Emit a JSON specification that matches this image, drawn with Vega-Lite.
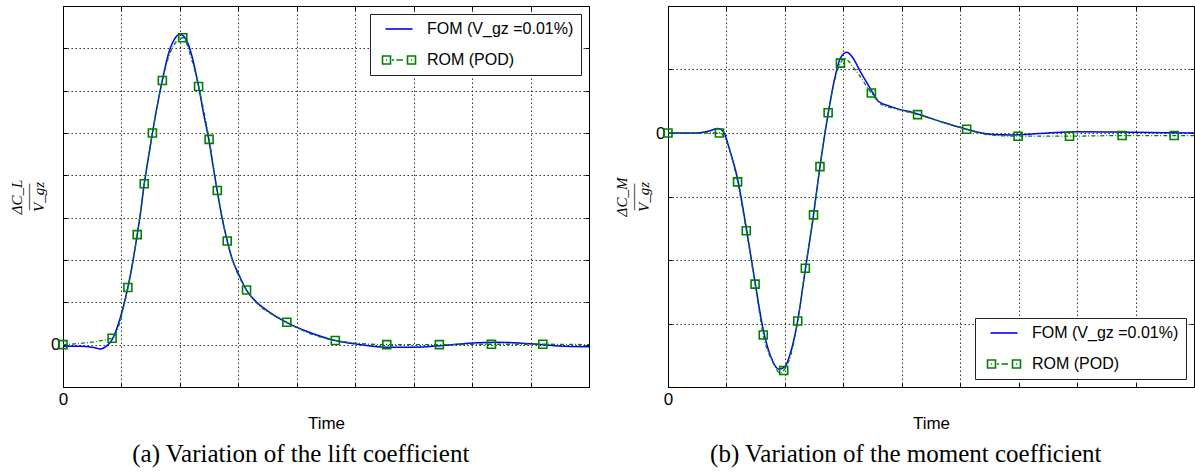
{
  "$schema": "https://vega.github.io/schema/vega-lite/v6.json",
  "padding": {"left": 9, "top": 5, "right": 0, "bottom": 0},
  "background": "white",
  "bounds": "flush",
  "spacing": 79,
  "config": {
    "view": {"stroke": "black", "strokeWidth": 1},
    "font": "Liberation Sans"
  },
  "datasets": {
    "lFOM": [
      {"t": 0, "v": -0.04}, {"t": 0.3, "v": -0.04}, {"t": 0.5, "v": -0.06}, {"t": 0.65, "v": -0.1}, {"t": 0.75, "v": -0.03},
      {"t": 0.84, "v": 0.12}, {"t": 0.95, "v": 0.5}, {"t": 1.05, "v": 1.0}, {"t": 1.11, "v": 1.35}, {"t": 1.2, "v": 2.0},
      {"t": 1.27, "v": 2.6}, {"t": 1.33, "v": 3.15}, {"t": 1.39, "v": 3.8}, {"t": 1.46, "v": 4.4}, {"t": 1.53, "v": 5.0},
      {"t": 1.6, "v": 5.55}, {"t": 1.7, "v": 6.25}, {"t": 1.8, "v": 6.85}, {"t": 1.9, "v": 7.2}, {"t": 2.0, "v": 7.33},
      {"t": 2.1, "v": 7.22}, {"t": 2.2, "v": 6.85}, {"t": 2.32, "v": 6.1}, {"t": 2.4, "v": 5.5}, {"t": 2.5, "v": 4.8},
      {"t": 2.57, "v": 4.2}, {"t": 2.64, "v": 3.62}, {"t": 2.72, "v": 3.0}, {"t": 2.81, "v": 2.45}, {"t": 2.9, "v": 2.0},
      {"t": 3.0, "v": 1.68}, {"t": 3.14, "v": 1.29}, {"t": 3.3, "v": 1.02}, {"t": 3.5, "v": 0.8}, {"t": 3.83, "v": 0.52},
      {"t": 4.2, "v": 0.3}, {"t": 4.66, "v": 0.1}, {"t": 5.0, "v": 0.02}, {"t": 5.5, "v": -0.06}, {"t": 6.0, "v": -0.06},
      {"t": 6.5, "v": -0.02}, {"t": 7.0, "v": 0.04}, {"t": 7.4, "v": 0.06}, {"t": 7.8, "v": 0.04}, {"t": 8.2, "v": 0.0},
      {"t": 8.6, "v": -0.04}, {"t": 9.0, "v": -0.05}
    ],
    "lROMline": [
      {"t": 0, "v": 0}, {"t": 0.84, "v": 0.15}, {"t": 1.11, "v": 1.35}, {"t": 1.27, "v": 2.6}, {"t": 1.39, "v": 3.8},
      {"t": 1.53, "v": 5.0}, {"t": 1.7, "v": 6.24}, {"t": 1.85, "v": 6.95}, {"t": 2.05, "v": 7.25}, {"t": 2.2, "v": 6.75},
      {"t": 2.32, "v": 6.1}, {"t": 2.5, "v": 4.85}, {"t": 2.64, "v": 3.64}, {"t": 2.81, "v": 2.45}, {"t": 3.14, "v": 1.29},
      {"t": 3.83, "v": 0.53}, {"t": 4.66, "v": 0.1}, {"t": 5.54, "v": 0.0}, {"t": 6.44, "v": 0.0}, {"t": 7.33, "v": 0.01},
      {"t": 8.21, "v": 0.01}, {"t": 9.0, "v": 0.0}
    ],
    "lROMpts": [
      {"t": 0, "v": 0}, {"t": 0.84, "v": 0.15}, {"t": 1.11, "v": 1.35}, {"t": 1.27, "v": 2.6}, {"t": 1.39, "v": 3.8},
      {"t": 1.53, "v": 5.0}, {"t": 1.7, "v": 6.24}, {"t": 2.05, "v": 7.25}, {"t": 2.32, "v": 6.1}, {"t": 2.5, "v": 4.85},
      {"t": 2.64, "v": 3.64}, {"t": 2.81, "v": 2.45}, {"t": 3.14, "v": 1.29}, {"t": 3.83, "v": 0.53}, {"t": 4.66, "v": 0.1},
      {"t": 5.54, "v": 0.0}, {"t": 6.44, "v": 0.0}, {"t": 7.33, "v": 0.01}, {"t": 8.21, "v": 0.01}
    ],
    "rFOM": [
      {"t": 0, "v": 0}, {"t": 0.5, "v": 0.0}, {"t": 0.7, "v": 0.03}, {"t": 0.85, "v": 0.07}, {"t": 0.95, "v": 0.02},
      {"t": 1.05, "v": -0.25}, {"t": 1.19, "v": -0.72}, {"t": 1.34, "v": -1.5}, {"t": 1.49, "v": -2.35}, {"t": 1.63, "v": -3.1},
      {"t": 1.75, "v": -3.5}, {"t": 1.9, "v": -3.72}, {"t": 2.0, "v": -3.68}, {"t": 2.1, "v": -3.45}, {"t": 2.22, "v": -2.95},
      {"t": 2.35, "v": -2.15}, {"t": 2.49, "v": -1.29}, {"t": 2.6, "v": -0.53}, {"t": 2.74, "v": 0.3}, {"t": 2.85, "v": 0.85},
      {"t": 2.95, "v": 1.18}, {"t": 3.06, "v": 1.27}, {"t": 3.15, "v": 1.2}, {"t": 3.3, "v": 0.95}, {"t": 3.45, "v": 0.72},
      {"t": 3.6, "v": 0.5}, {"t": 3.8, "v": 0.42}, {"t": 4.27, "v": 0.3}, {"t": 4.7, "v": 0.17}, {"t": 5.1, "v": 0.06},
      {"t": 5.5, "v": -0.02}, {"t": 5.9, "v": -0.03}, {"t": 6.5, "v": 0.0}, {"t": 7.0, "v": 0.02}, {"t": 8.0, "v": 0.01},
      {"t": 9.0, "v": 0.0}
    ],
    "rROMline": [
      {"t": 0, "v": 0}, {"t": 0.88, "v": 0}, {"t": 1.19, "v": -0.77}, {"t": 1.34, "v": -1.54}, {"t": 1.49, "v": -2.38},
      {"t": 1.63, "v": -3.18}, {"t": 1.8, "v": -3.62}, {"t": 1.92, "v": -3.78}, {"t": 1.98, "v": -3.74}, {"t": 2.1, "v": -3.5},
      {"t": 2.22, "v": -2.96}, {"t": 2.35, "v": -2.13}, {"t": 2.49, "v": -1.29}, {"t": 2.6, "v": -0.53}, {"t": 2.74, "v": 0.32},
      {"t": 2.95, "v": 1.1}, {"t": 3.02, "v": 1.17}, {"t": 3.2, "v": 1.0}, {"t": 3.48, "v": 0.63}, {"t": 3.65, "v": 0.45},
      {"t": 3.9, "v": 0.38}, {"t": 4.27, "v": 0.29}, {"t": 5.11, "v": 0.06}, {"t": 5.5, "v": -0.03}, {"t": 5.99, "v": -0.05},
      {"t": 6.87, "v": -0.05}, {"t": 7.77, "v": -0.04}, {"t": 8.66, "v": -0.04}, {"t": 9.0, "v": -0.04}
    ],
    "rROMpts": [
      {"t": 0, "v": 0}, {"t": 0.88, "v": 0}, {"t": 1.19, "v": -0.77}, {"t": 1.34, "v": -1.54}, {"t": 1.49, "v": -2.38},
      {"t": 1.63, "v": -3.18}, {"t": 1.98, "v": -3.74}, {"t": 2.22, "v": -2.96}, {"t": 2.35, "v": -2.13}, {"t": 2.49, "v": -1.29},
      {"t": 2.6, "v": -0.53}, {"t": 2.74, "v": 0.32}, {"t": 2.95, "v": 1.1}, {"t": 3.48, "v": 0.63}, {"t": 4.27, "v": 0.29},
      {"t": 5.11, "v": 0.06}, {"t": 5.99, "v": -0.05}, {"t": 6.87, "v": -0.05}, {"t": 7.77, "v": -0.04}, {"t": 8.66, "v": -0.04}
    ],
    "leg": [
      {"s": "FOM (V_gz =0.01%)"}, {"s": "ROM (POD)"}
    ]
  },
  "hconcat": [
    {
      "width": 526,
      "height": 381,
      "title": {"text": "(a)  Variation of the lift coefficient", "orient": "bottom", "anchor": "middle", "frame": "bounds", "font": "Liberation Serif", "fontSize": 25, "fontWeight": "normal", "color": "black", "offset": 11},
      "resolve": {"axis": {"x": "independent", "y": "independent"}},
      "layer": [
        {
          "data": {"name": "lFOM"},
          "mark": {"type": "line", "color": "#0000ff", "strokeWidth": 1.5, "interpolate": "monotone"},
          "encoding": {
            "x": {"field": "t", "type": "quantitative", "scale": {"domain": [0, 9], "nice": false, "zero": false},
              "axis": {"orient": "bottom", "values": [0,1,2,3,4,5,6,7,8,9], "labelExpr": "datum.value == 0 ? '0' : ''", "labelOverlap": false, "labelFlush": false,
                "grid": true, "gridDash": [1.5, 2.5], "gridColor": "black", "gridOpacity": 0.8, "domain": false,
                "ticks": true, "tickSize": -4, "tickColor": "black", "labelPadding": 8, "labelFont": "Liberation Sans",
                "labelFontSize": {"condition": {"test": "datum.value == 0", "value": 17}, "value": 0}, "labelColor": "black",
                "title": "Time", "titleFont": "Liberation Sans", "titleFontSize": 17, "titleFontWeight": "normal", "titleColor": "black", "titlePadding": 8}},
            "y": {"field": "v", "type": "quantitative", "scale": {"domain": [-1, 8], "nice": false, "zero": false},
              "axis": {"orient": "left", "values": [-1,0,1,2,3,4,5,6,7,8], "labelExpr": "datum.value == 0 ? '0' : ''", "labelOverlap": false, "labelFlush": false,
                "grid": true, "gridDash": [1.5, 2.5], "gridColor": "black", "gridOpacity": 0.8, "domain": false,
                "ticks": true, "tickSize": -4, "tickColor": "black", "labelPadding": 7, "labelFont": "Liberation Sans",
                "labelFontSize": {"condition": {"test": "datum.value == 0", "value": 17}, "value": 0}, "labelColor": "black",
                "title": ["ΔC_L", "——", "V_gz"], "titleFont": "Liberation Serif", "titleFontStyle": "italic", "titleFontSize": 15, "titleLineHeight": 11, "titleFontWeight": "normal", "titleColor": "black", "titlePadding": 4}}
          }
        },
        {
          "data": {"name": "lROMline"},
          "mark": {"type": "line", "color": "#008000", "strokeWidth": 1.3, "strokeDash": [4, 2, 1, 2], "interpolate": "monotone"},
          "encoding": {
            "x": {"field": "t", "type": "quantitative", "axis": {"orient": "top", "values": [0,1,2,3,4,5,6,7,8,9], "labels": false, "grid": false, "domain": false, "ticks": true, "tickSize": -4, "tickColor": "black", "title": null}},
            "y": {"field": "v", "type": "quantitative", "axis": {"orient": "right", "values": [-1,0,1,2,3,4,5,6,7,8], "labels": false, "grid": false, "domain": false, "ticks": true, "tickSize": -4, "tickColor": "black", "title": null}}
          }
        },
        {
          "data": {"name": "lROMpts"},
          "mark": {"type": "point", "shape": "square", "size": 64, "filled": false, "color": "#008000", "strokeWidth": 1.6, "opacity": 1},
          "encoding": {
            "x": {"field": "t", "type": "quantitative", "axis": null},
            "y": {"field": "v", "type": "quantitative", "axis": null}
          }
        },
        {
          "data": {"name": "leg"},
          "mark": {"type": "point", "opacity": 0, "filled": false},
          "encoding": {
            "color": {"field": "s", "type": "nominal", "scale": {"domain": ["FOM (V_gz =0.01%)", "ROM (POD)"], "range": ["#0000ff", "#008000"]},
              "legend": {"orient": "top-right", "offset": 8, "title": null, "fillColor": "white", "strokeColor": "#222", "padding": 7, "rowPadding": 15,
                "labelFont": "Liberation Sans", "labelFontSize": 16, "labelColor": "black", "labelLimit": 400, "symbolSize": 100, "symbolOpacity": 1,
                "symbolStrokeWidth": 1.6, "symbolFillColor": "transparent", "symbolOffset": 14, "labelOffset": 20}},
            "shape": {"field": "s", "type": "nominal", "scale": {"domain": ["FOM (V_gz =0.01%)", "ROM (POD)"], "range": ["M-2.7,0H2.7", "M-3.3,-0.8H-1.7V0.8H-3.3Z M1.7,-0.8H3.3V0.8H1.7Z M-2.6,0H-2.4 M-1.4,0H-1.0 M-0.5,0H0.8 M2.4,0H2.6"]},
              "legend": {"orient": "top-right", "offset": 8, "title": null, "fillColor": "white", "strokeColor": "#222", "padding": 7, "rowPadding": 15,
                "labelFont": "Liberation Sans", "labelFontSize": 16, "labelColor": "black", "labelLimit": 400, "symbolSize": 100, "symbolOpacity": 1,
                "symbolStrokeWidth": 1.6, "symbolFillColor": "transparent", "symbolOffset": 14, "labelOffset": 20}}
          }
        }
      ]
    },
    {
      "width": 526,
      "height": 381,
      "title": {"text": "(b)  Variation of the moment coefficient", "orient": "bottom", "anchor": "middle", "frame": "bounds", "font": "Liberation Serif", "fontSize": 25, "fontWeight": "normal", "color": "black", "offset": 11},
      "resolve": {"axis": {"x": "independent", "y": "independent"}},
      "layer": [
        {
          "data": {"name": "rFOM"},
          "mark": {"type": "line", "color": "#0000ff", "strokeWidth": 1.5, "interpolate": "monotone"},
          "encoding": {
            "x": {"field": "t", "type": "quantitative", "scale": {"domain": [0, 9], "nice": false, "zero": false},
              "axis": {"orient": "bottom", "values": [0,1,2,3,4,5,6,7,8,9], "labelExpr": "datum.value == 0 ? '0' : ''", "labelOverlap": false, "labelFlush": false,
                "grid": true, "gridDash": [1.5, 2.5], "gridColor": "black", "gridOpacity": 0.8, "domain": false,
                "ticks": true, "tickSize": -4, "tickColor": "black", "labelPadding": 8, "labelFont": "Liberation Sans",
                "labelFontSize": {"condition": {"test": "datum.value == 0", "value": 17}, "value": 0}, "labelColor": "black",
                "title": "Time", "titleFont": "Liberation Sans", "titleFontSize": 17, "titleFontWeight": "normal", "titleColor": "black", "titlePadding": 8}},
            "y": {"field": "v", "type": "quantitative", "scale": {"domain": [-4, 2], "nice": false, "zero": false},
              "axis": {"orient": "left", "values": [-4,-3,-2,-1,0,1,2], "labelExpr": "datum.value == 0 ? '0' : ''", "labelOverlap": false, "labelFlush": false,
                "grid": true, "gridDash": [1.5, 2.5], "gridColor": "black", "gridOpacity": 0.8, "domain": false,
                "ticks": true, "tickSize": -4, "tickColor": "black", "labelPadding": 7, "labelFont": "Liberation Sans",
                "labelFontSize": {"condition": {"test": "datum.value == 0", "value": 17}, "value": 0}, "labelColor": "black",
                "title": ["ΔC_M", "——", "V_gz"], "titleFont": "Liberation Serif", "titleFontStyle": "italic", "titleFontSize": 15, "titleLineHeight": 11, "titleFontWeight": "normal", "titleColor": "black", "titlePadding": 4}}
          }
        },
        {
          "data": {"name": "rROMline"},
          "mark": {"type": "line", "color": "#008000", "strokeWidth": 1.3, "strokeDash": [4, 2, 1, 2], "interpolate": "monotone"},
          "encoding": {
            "x": {"field": "t", "type": "quantitative", "axis": {"orient": "top", "values": [0,1,2,3,4,5,6,7,8,9], "labels": false, "grid": false, "domain": false, "ticks": true, "tickSize": -4, "tickColor": "black", "title": null}},
            "y": {"field": "v", "type": "quantitative", "axis": {"orient": "right", "values": [-4,-3,-2,-1,0,1,2], "labels": false, "grid": false, "domain": false, "ticks": true, "tickSize": -4, "tickColor": "black", "title": null}}
          }
        },
        {
          "data": {"name": "rROMpts"},
          "mark": {"type": "point", "shape": "square", "size": 64, "filled": false, "color": "#008000", "strokeWidth": 1.6, "opacity": 1},
          "encoding": {
            "x": {"field": "t", "type": "quantitative", "axis": null},
            "y": {"field": "v", "type": "quantitative", "axis": null}
          }
        },
        {
          "data": {"name": "leg"},
          "mark": {"type": "point", "opacity": 0, "filled": false},
          "encoding": {
            "color": {"field": "s", "type": "nominal", "scale": {"domain": ["FOM (V_gz =0.01%)", "ROM (POD)"], "range": ["#0000ff", "#008000"]},
              "legend": {"orient": "bottom-right", "offset": 8, "title": null, "fillColor": "white", "strokeColor": "#222", "padding": 7, "rowPadding": 15,
                "labelFont": "Liberation Sans", "labelFontSize": 16, "labelColor": "black", "labelLimit": 400, "symbolSize": 100, "symbolOpacity": 1,
                "symbolStrokeWidth": 1.6, "symbolFillColor": "transparent", "symbolOffset": 14, "labelOffset": 20}},
            "shape": {"field": "s", "type": "nominal", "scale": {"domain": ["FOM (V_gz =0.01%)", "ROM (POD)"], "range": ["M-2.7,0H2.7", "M-3.3,-0.8H-1.7V0.8H-3.3Z M1.7,-0.8H3.3V0.8H1.7Z M-2.6,0H-2.4 M-1.4,0H-1.0 M-0.5,0H0.8 M2.4,0H2.6"]},
              "legend": {"orient": "bottom-right", "offset": 8, "title": null, "fillColor": "white", "strokeColor": "#222", "padding": 7, "rowPadding": 15,
                "labelFont": "Liberation Sans", "labelFontSize": 16, "labelColor": "black", "labelLimit": 400, "symbolSize": 100, "symbolOpacity": 1,
                "symbolStrokeWidth": 1.6, "symbolFillColor": "transparent", "symbolOffset": 14, "labelOffset": 20}}
          }
        }
      ]
    }
  ]
}
